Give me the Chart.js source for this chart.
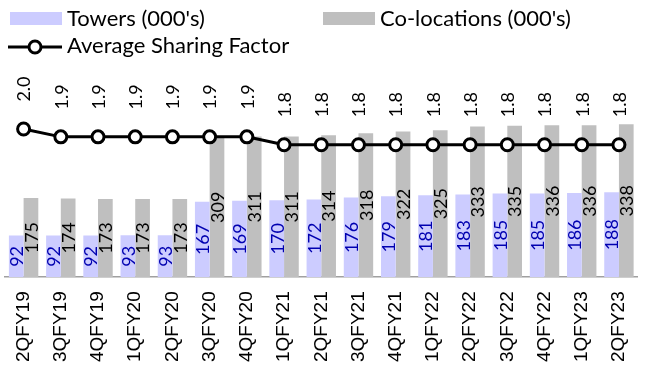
<!DOCTYPE html>
<html>
<head>
<meta charset="utf-8">
<script src="https://cdn.jsdelivr.net/npm/chart.js@4.4.0/dist/chart.umd.min.js"></script>
<style>
  html, body { margin: 0; padding: 0; background: #fff; overflow: hidden; }
  #wrap { position: absolute; left: -4px; top: 0; width: 660px; height: 376px; }
</style>
</head>
<body>
<div id="wrap"><canvas id="c" width="660" height="376"></canvas></div>
<script>
// Quarterly tower portfolio
const categories = ['2QFY19','3QFY19','4QFY19','1QFY20','2QFY20','3QFY20','4QFY20','1QFY21','2QFY21',
                    '3QFY21','4QFY21','1QFY22','2QFY22','3QFY22','4QFY22','1QFY23','2QFY23'];
const towers = [92, 92, 92, 93, 93, 167, 169, 170, 172, 176, 179, 181, 183, 185, 185, 186, 188];
const colocations = [175, 174, 173, 173, 173, 309, 311, 311, 314, 318, 322, 325, 333, 335, 336, 336, 338];
const sharingFactor = [2.0, 1.9, 1.9, 1.9, 1.9, 1.9, 1.9, 1.8, 1.8, 1.8, 1.8, 1.8, 1.8, 1.8, 1.8, 1.8, 1.8];

const TOWER_COLOR = '#CCCCFF';
const COLOC_COLOR = '#BFBFBF';
const LABEL_FONT = '18px Lato, "Open Sans", sans-serif';
const LEGEND_FONT = '22px Lato, "Open Sans", sans-serif';
const SHIFT = 4; // canvas sits 4px left of the page edge

// Rotated value labels: centred inside the bars, above the line markers
const valueLabels = {
  id: 'valueLabels',
  afterDatasetsDraw(chart) {
    const ctx = chart.ctx;
    ctx.save();
    ctx.font = LABEL_FONT;
    ctx.textAlign = 'center';
    ctx.textBaseline = 'middle';
    chart.data.datasets.forEach((ds, i) => {
      const meta = chart.getDatasetMeta(i);
      meta.data.forEach((el, j) => {
        const v = ds.data[j];
        let x, y, txt;
        if (ds.type === 'line') {
          x = el.x; y = el.y - 40; txt = v.toFixed(1);
          ctx.fillStyle = '#000000';
        } else {
          const p = el.getProps(['x', 'y', 'base'], true);
          x = p.x; y = (p.y + p.base) / 2; txt = String(v);
          ctx.fillStyle = ds.labelColor;
        }
        ctx.save();
        ctx.translate(x, y);
        ctx.rotate(-Math.PI / 2);
        ctx.fillText(txt, 0, 1);
        ctx.restore();
      });
    });
    ctx.restore();
  }
};

// Legend drawn in two columns at the top
const topLegend = {
  id: 'topLegend',
  afterDraw(chart) {
    const ctx = chart.ctx;
    const ds = chart.data.datasets;
    ctx.save();
    ctx.font = LEGEND_FONT;
    ctx.textBaseline = 'middle';
    ctx.textAlign = 'left';
    ctx.fillStyle = ds[0].backgroundColor;
    ctx.fillRect(SHIFT + 10, 12, 52, 13);
    ctx.fillStyle = '#000';
    ctx.fillText(ds[0].label, SHIFT + 67, 19);
    ctx.fillStyle = ds[1].backgroundColor;
    ctx.fillRect(SHIFT + 323, 12, 52, 13);
    ctx.fillStyle = '#000';
    ctx.fillText(ds[1].label, SHIFT + 380, 19);
    // line + marker sample
    ctx.strokeStyle = '#000';
    ctx.lineWidth = 3;
    ctx.beginPath();
    ctx.moveTo(SHIFT + 8, 47);
    ctx.lineTo(SHIFT + 62, 47);
    ctx.stroke();
    ctx.beginPath();
    ctx.arc(SHIFT + 35, 47, 6, 0, Math.PI * 2);
    ctx.fillStyle = '#fff';
    ctx.fill();
    ctx.stroke();
    ctx.fillStyle = '#000';
    ctx.fillText(ds[2].label, SHIFT + 67, 46);
    ctx.restore();
  }
};

new Chart(document.getElementById('c'), {
  data: {
    labels: categories,
    datasets: [
      { type: 'bar', label: "Towers (000's)", data: towers, backgroundColor: TOWER_COLOR,
        labelColor: '#0000B0', yAxisID: 'y', order: 2,
        categoryPercentage: 0.79, barPercentage: 1.0 },
      { type: 'bar', label: "Co-locations (000's)", data: colocations, backgroundColor: COLOC_COLOR,
        labelColor: '#000000', yAxisID: 'y', order: 2,
        categoryPercentage: 0.79, barPercentage: 1.0 },
      { type: 'line', label: 'Average Sharing Factor', data: sharingFactor, yAxisID: 'y2', order: 0,
        borderColor: '#000', borderWidth: 3, pointRadius: 6, pointBorderWidth: 3,
        pointBackgroundColor: '#fff', pointBorderColor: '#000', tension: 0, fill: false }
    ]
  },
  options: {
    responsive: false,
    animation: false,
    layout: { padding: { top: 60, bottom: 0, left: 0, right: 0 } },
    plugins: { legend: { display: false }, tooltip: { enabled: false } },
    scales: {
      x: {
        grid: { display: false, drawTicks: false },
        border: { display: true, color: '#A0A0A0', width: 1.5 },
        ticks: { color: '#000', font: { family: '"Liberation Sans", Arial, sans-serif', size: 19 },
                 minRotation: 90, maxRotation: 90, autoSkip: false, padding: 14 }
      },
      y: { display: false, min: 0, max: 480 },
      y2: { display: false, min: 0.116, max: 2.877 }
    }
  },
  plugins: [valueLabels, topLegend]
});
</script>
</body>
</html>
